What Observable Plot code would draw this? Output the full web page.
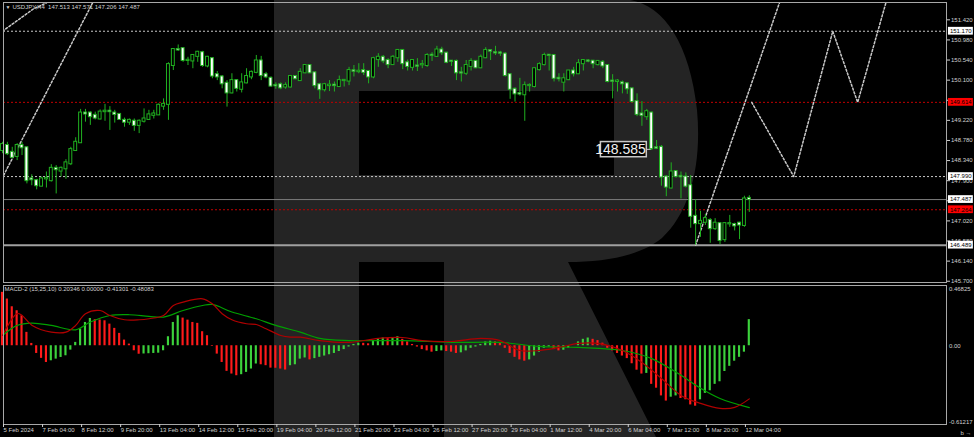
<!DOCTYPE html>
<html>
<head>
<meta charset="utf-8">
<script src="https://cdn.jsdelivr.net/npm/d3@7"></script>
<script src="https://cdn.jsdelivr.net/npm/@observablehq/plot@0.6"></script>
<style>
  html, body { margin: 0; padding: 0; background: #000; }
  #chart { position: relative; width: 974px; height: 437px; background: #000; overflow: hidden; }
  #chart > svg { position: absolute; left: 0; }
</style>
</head>
<body>
<div id="chart"></div>
<script>
// ---------- DATA ----------
const open = [148.56,148.67,148.52,148.43,148.67,148.62,147.94,147.90,147.78,147.94,
147.90,148.17,148.11,148.16,148.27,148.56,148.73,149.38,149.38,149.33,
149.25,149.41,149.42,149.38,149.35,149.22,149.18,149.20,149.11,149.20,
149.24,149.33,149.34,149.53,149.57,150.42,150.77,150.79,150.53,150.52,
150.62,150.70,150.41,150.57,150.22,150.17,150.03,149.82,150.09,149.90,
150.04,150.17,150.27,150.52,150.22,150.14,149.985,150.00,149.95,149.95,
150.18,150.09,150.26,150.42,150.26,150.00,149.89,149.98,149.99,149.96,
150.09,150.08,150.305,150.285,150.31,150.29,150.17,150.55,150.60,150.53,
150.44,150.59,150.75,150.48,150.38,150.41,150.435,150.42,150.645,150.62,
150.76,150.69,150.515,150.51,150.26,150.25,150.40,150.51,150.37,150.59,
150.745,150.70,150.695,150.67,150.22,149.90,149.805,149.78,149.98,149.96,
150.33,150.44,150.645,150.64,150.14,150.055,150.11,150.30,150.24,150.46,
150.52,150.515,150.44,150.49,150.42,150.08,150.07,150.04,150.02,149.91,
149.63,149.36,149.30,149.38,148.62,148.63,147.98,147.74,148.10,147.995,
147.98,147.79,147.12,146.96,146.99,147.03,146.85,146.96,146.61,146.955,
146.94,146.97,146.92,147.513];
const high = [148.74,148.74,148.63,148.71,148.74,148.63,148.03,147.93,147.98,148.09,
148.25,148.23,148.20,148.36,148.63,148.84,149.46,149.46,149.41,149.40,
149.45,149.57,149.52,149.44,149.36,149.27,149.25,149.25,149.23,149.47,
149.44,149.44,149.58,149.69,150.48,150.79,150.87,150.80,150.60,150.66,
150.73,150.73,150.62,150.59,150.29,150.20,150.09,150.24,150.11,150.24,
150.35,150.30,150.64,150.62,150.27,150.17,150.04,150.04,150.04,150.20,
150.20,150.35,150.44,150.44,150.27,150.03,150.03,150.09,150.06,150.19,
150.11,150.38,150.42,150.46,150.46,150.31,150.60,150.68,150.64,150.57,
150.64,150.77,150.77,150.54,150.55,150.57,150.53,150.68,150.70,150.84,
150.82,150.71,150.53,150.54,150.38,150.53,150.57,150.53,150.65,150.81,
150.75,150.84,150.73,150.70,150.24,149.93,150.14,150.06,150.02,150.36,
150.48,150.69,150.66,150.66,150.24,150.24,150.31,150.38,150.55,150.55,
150.55,150.53,150.53,150.53,150.44,150.22,150.11,150.08,150.04,149.92,
149.80,149.63,149.46,149.40,148.78,148.67,148.01,148.29,148.12,148.09,
148.07,148.01,147.48,147.23,147.16,147.07,147.07,146.97,146.97,147.14,
146.97,146.99,147.56,147.571];
const low = [148.49,148.45,148.38,148.34,148.45,147.83,147.79,147.70,147.77,147.74,
147.87,147.61,147.98,147.93,148.23,148.55,148.72,149.18,149.11,149.23,
149.23,149.20,149.00,149.16,149.22,149.07,149.11,148.98,148.93,149.16,
149.22,149.25,149.33,149.44,149.22,150.31,150.73,150.49,150.42,150.35,
150.49,150.38,150.37,150.13,150.09,149.91,149.51,149.80,149.84,149.82,
150.02,150.11,150.24,150.09,150.13,149.95,149.90,149.89,149.90,149.93,
150.11,150.07,150.24,150.24,149.91,149.68,149.84,149.85,149.84,149.95,
149.95,149.98,150.17,150.24,150.20,150.02,150.13,150.38,150.46,150.35,
150.42,150.49,150.33,150.30,150.30,150.29,150.35,150.38,150.51,150.60,
150.64,150.46,150.40,150.09,150.06,150.20,150.30,150.35,150.35,150.57,
150.53,150.64,150.62,150.17,149.68,149.62,149.75,149.20,149.84,149.93,
150.30,150.41,150.30,150.06,150.06,149.84,150.09,150.17,150.22,150.30,
150.48,150.35,150.41,150.35,150.04,149.69,149.84,149.80,149.79,149.60,
149.30,149.09,149.22,148.56,148.58,147.78,147.55,147.72,147.96,147.50,
147.74,146.86,146.489,146.66,146.92,146.53,146.81,146.50,146.55,146.88,
146.80,146.61,146.88,147.206];
const close = [148.69,148.49,148.41,148.67,148.62,147.90,147.92,147.79,147.94,147.95,
148.17,148.14,148.17,148.29,148.58,148.74,149.38,149.36,149.30,149.27,
149.40,149.42,149.41,149.35,149.24,149.18,149.22,149.11,149.20,149.25,
149.34,149.36,149.55,149.57,150.44,150.77,150.76,150.53,150.535,150.64,
150.71,150.42,150.60,150.19,150.17,150.02,149.82,150.09,149.92,150.04,
150.18,150.27,150.52,150.20,150.17,149.97,149.975,149.93,149.98,150.18,
150.13,150.27,150.42,150.26,149.98,149.89,150.00,149.99,149.98,150.09,
150.095,150.31,150.295,150.295,150.27,150.17,150.57,150.60,150.52,150.44,
150.60,150.75,150.46,150.40,150.53,150.405,150.44,150.64,150.64,150.76,
150.70,150.49,150.51,150.26,150.255,150.42,150.51,150.37,150.60,150.75,
150.735,150.695,150.69,150.20,149.90,149.80,149.795,149.98,149.985,150.35,
150.44,150.64,150.64,150.14,150.13,150.13,150.30,150.24,150.46,150.53,
150.515,150.46,150.51,150.41,150.07,150.075,150.08,150.02,149.91,149.63,
149.35,149.33,149.41,148.60,148.61,147.98,147.76,148.09,147.99,147.985,
147.78,147.12,146.96,147.01,147.07,146.85,146.97,146.59,146.96,146.96,
146.91,146.93,147.50,147.487];

// MACD-2 histogram (one value per bar)
const macdHist = [0.415,0.363,0.303,0.272,0.233,0.104,0.018,-0.060,-0.098,-0.130,
-0.117,-0.104,-0.091,-0.078,-0.034,0.026,0.130,0.181,0.212,0.202,
0.200,0.194,0.168,0.135,0.096,0.044,0.013,-0.039,-0.066,-0.064,
-0.062,-0.060,-0.058,-0.039,0.070,0.181,0.233,0.215,0.199,0.181,
0.174,0.109,0.078,-0.005,-0.065,-0.130,-0.199,-0.220,-0.233,-0.225,
-0.207,-0.181,-0.142,-0.148,-0.155,-0.174,-0.175,-0.181,-0.189,-0.155,
-0.148,-0.104,-0.095,-0.110,-0.100,-0.090,-0.080,-0.070,-0.060,-0.045,
-0.030,-0.010,0.010,0.020,0.019,0.015,0.040,0.055,0.060,0.055,
0.060,0.070,0.050,0.030,0.010,-0.010,-0.030,-0.040,-0.050,-0.045,
-0.040,-0.045,-0.050,-0.060,-0.055,-0.040,-0.020,-0.010,0.010,0.030,
0.035,0.030,0.020,-0.020,-0.060,-0.090,-0.110,-0.120,-0.110,-0.080,
-0.050,-0.020,-0.010,-0.030,-0.040,-0.035,-0.020,0.000,0.030,0.050,
0.060,0.050,0.040,0.020,-0.020,-0.040,-0.060,-0.080,-0.100,-0.140,
-0.190,-0.220,-0.215,-0.300,-0.330,-0.390,-0.430,-0.400,-0.390,-0.410,
-0.420,-0.460,-0.470,-0.420,-0.370,-0.350,-0.300,-0.280,-0.200,-0.160,
-0.120,-0.090,-0.050,0.203];

// MACD line (red) and signal line (green), read at bar positions
const macdLineBar = [0,3,4,6,10,13,15,17,20,22,25,28,30,33,35,37,41,43,45,47,50,52,54,57,59,61,65,71,77,82,86,92,98,102,106,110,114,118,122,127,131,135,139,143,147,150,153];
const macdLineVal = [0.08,0.25,0.235,0.16,0.106,0.106,0.158,0.249,0.274,0.235,0.202,0.202,0.21,0.235,0.313,0.339,0.365,0.326,0.249,0.202,0.171,0.165,0.132,0.08,0.067,0.067,0.04,0.026,0.057,0.064,0.04,0.033,0.057,0.04,-0.037,-0.037,-0.013,0.018,0.018,-0.037,-0.13,-0.254,-0.386,-0.448,-0.487,-0.479,-0.413];
const signalBar = [0,3,6,10,15,18,22,26,30,33,37,41,43,47,52,56,61,65,71,82,92,102,110,118,127,133,139,143,147,153];
const signalVal = [0.08,0.158,0.176,0.158,0.124,0.184,0.235,0.241,0.228,0.223,0.274,0.313,0.321,0.262,0.21,0.158,0.106,0.057,0.04,0.04,0.026,0.026,-0.005,-0.013,-0.037,-0.1,-0.23,-0.33,-0.41,-0.481];

// price axis ticks (labels hidden under the level boxes are left blank)
const priceTicks = [151.42,150.98,150.54,150.10,149.66,149.22,148.78,148.34,147.90,147.46,147.02,146.58,146.14,145.70];
const priceTicksCovered = [149.66, 147.46];
// time axis
const timeTickBar = [0,8,16,24,32,40,48,56,64,72,80,88,96,104,112,120,128,136,144,152];
const timeTickLabel = ["5 Feb 2024","7 Feb 04:00","8 Feb 12:00","9 Feb 20:00","13 Feb 04:00","14 Feb 12:00","15 Feb 20:00","19 Feb 04:00","20 Feb 12:00","21 Feb 20:00","23 Feb 04:00","26 Feb 12:00","27 Feb 20:00","29 Feb 04:00","1 Mar 12:00","4 Mar 20:00","6 Mar 04:00","7 Mar 12:00","8 Mar 20:00","12 Mar 04:00"];
// horizontal levels
const levelPrice = [151.170,149.614,147.990,147.487,147.264,146.489];
const levelKind  = ["dotW","dotR","dotW","solid","dotR","solid2"];
const levelBoxBg = ["#ffffff","#ff0000","#ffffff","#ffffff","#ff0000","#ffffff"];
// analyst drawn dotted trend lines
const fcLine  = ["C","C","C","D","D","A","A","B","B","B","B","B"];
const fcBar   = [0,6.35,9.0,18.45,0,142,159.2,153.5,162.1,170.1,175.2,181];
const fcPrice = [151.17,151.66,151.79,151.79,147.97,146.489,151.80,149.614,147.99,151.17,149.614,151.80];
// price note
const noteBar = 132, notePrice = 148.585, noteText = "148.585";
const titleText = "USDJPY,H4  147.513 147.571 147.206 147.487";
const macdTitle = "MACD-2 (15,25,10) 0.20346 0.00000 -0.41301 -0.48083";
const macdTicks = [0.46825, 0, -0.61217];
const macdTickLabel = ["0.46825", "0.00", "-0.61217"];

// ---------- STYLE ----------
const GREEN = "#20b020";
const FRAME = "#a8a8a8";
const TXT = "#d0d0d0";
const FONT = "'Liberation Sans', Arial, sans-serif";
const xDomain = [0.205, 193.4];
const root = document.getElementById("chart");

// watermark (background)
const NS = "http://www.w3.org/2000/svg";
const bg = document.createElementNS(NS, "svg");
bg.setAttribute("width", 974); bg.setAttribute("height", 437);
bg.style.top = "0px";
const wm = document.createElementNS(NS, "path");
wm.setAttribute("d", "M274,0 H630 C665,6 690,45 697,110 C702,165 690,212 662,238 C640,256 605,262 568,262 L656,437 H444 V262 H359 V437 H274 Z M359,91 H614 V175 H359 Z");
wm.setAttribute("fill", "#242424");
wm.setAttribute("fill-rule", "evenodd");
bg.appendChild(wm);
root.appendChild(bg);

// ---------- MAIN PANEL ----------
const candles = open.map((o, i) => ({i, o, h: high[i], l: low[i], c: close[i]}));
const bull = candles.filter(d => d.c >= d.o);
const bear = candles.filter(d => d.c < d.o);
const bw = 0.3;
const body = (data, fill) => Plot.rect(data, {
  x1: d => d.i - bw, x2: d => d.i + bw,
  y1: d => Math.min(d.o, d.c), y2: d => Math.max(d.o, d.c),
  insetTop: -0.5, insetBottom: -0.5,
  fill, stroke: GREEN, strokeWidth: 1
});
const levels = levelPrice.map((p, k) => ({p, kind: levelKind[k], bg: levelBoxBg[k]}));
const fc = fcBar.map((b, k) => ({b, p: fcPrice[k], line: fcLine[k]}));
const boxH = 0.085;

const main = Plot.plot({
  width: 974, height: 284,
  marginTop: 2, marginBottom: 2, marginLeft: 3, marginRight: 28,
  style: {background: "transparent", color: TXT, fontFamily: FONT, fontSize: "6px"},
  x: {domain: xDomain, axis: null},
  y: {domain: [145.672, 151.799], axis: null},
  marks: [
    Plot.axisY({anchor: "right", ticks: priceTicks, tickFormat: d => priceTicksCovered.includes(d) ? "" : d.toFixed(3), tickSize: 3, tickPadding: 1.5, fontSize: 6}),
    Plot.ruleY(levels.filter(d => d.kind === "dotW"), {y: "p", stroke: "#c8c8c8", strokeDasharray: "2,2"}),
    Plot.ruleY(levels.filter(d => d.kind === "dotR"), {y: "p", stroke: "#c00000", strokeDasharray: "2,2"}),
    Plot.ruleY(levels.filter(d => d.kind === "solid"), {y: "p", stroke: "#7a7a7a"}),
    Plot.ruleY(levels.filter(d => d.kind === "solid2"), {y: "p", stroke: "#a0a0a0", strokeWidth: 2}),
    Plot.line(fc, {x: "b", y: "p", z: "line", stroke: "#c8c8c8", strokeDasharray: "2,2", clip: true}),
    Plot.ruleX(candles, {x: "i", y1: "l", y2: "h", stroke: GREEN}),
    body(bull, "#000000"),
    body(bear, "#ffffff"),
    // price note box
    Plot.rect([{}], {x1: noteBar - 9.4, x2: noteBar, y1: notePrice - 0.172, y2: notePrice + 0.160, fill: "#000", stroke: "#c8c8c8", strokeWidth: 1.5}),
    Plot.text([{}], {x: noteBar - 0.2, y: notePrice, text: () => noteText, textAnchor: "end", fill: "#f0f0f0", fontSize: 14, fontFamily: "'Liberation Sans Narrow', 'Liberation Sans', Arial, sans-serif"}),
    Plot.ruleY([notePrice], {x1: noteBar, x2: noteBar + 0.9, stroke: "#c8c8c8"}),
    // right price boxes
    Plot.rect(levels, {x1: 193.8, x2: 198.9, y1: d => d.p - boxH, y2: d => d.p + boxH, fill: "bg"}),
    Plot.text(levels, {x: 194.1, y: "p", text: d => d.p.toFixed(3), textAnchor: "start", fill: "#000", fontSize: 6}),
    Plot.frame({stroke: FRAME}),
    Plot.text([titleText], {frameAnchor: "top-left", dx: 9, dy: 5, textAnchor: "start", lineAnchor: "middle", fill: TXT, fontSize: 6}),
    Plot.text(["\u25BC"], {frameAnchor: "top-left", dx: 2, dy: 5, textAnchor: "start", lineAnchor: "middle", fill: TXT, fontSize: 5})
  ]
});
main.style.top = "0px";
root.appendChild(main);

// ---------- MACD PANEL ----------
const hist = macdHist.map((v, i) => ({i, v, up: i > 0 ? v > macdHist[i - 1] : false}));
const mLine = macdLineBar.map((b, k) => ({b, v: macdLineVal[k]}));
const sLine = signalBar.map((b, k) => ({b, v: signalVal[k]}));
const hw = 0.22;
const macd = Plot.plot({
  width: 974, height: 153,
  marginTop: 1, marginBottom: 13, marginLeft: 3, marginRight: 28,
  style: {background: "transparent", color: TXT, fontFamily: FONT, fontSize: "6px"},
  x: {domain: xDomain, axis: null},
  y: {domain: [-0.61217, 0.46825], axis: null},
  marks: [
    Plot.rect(hist.filter(d => d.up), {x1: d => d.i - hw, x2: d => d.i + hw, y1: 0, y2: "v", fill: "#3cd23c"}),
    Plot.rect(hist.filter(d => !d.up), {x1: d => d.i - hw, x2: d => d.i + hw, y1: 0, y2: "v", fill: "#ff1a1a"}),
    Plot.line(sLine, {x: "b", y: "v", stroke: "#00a000", strokeWidth: 1.2, curve: "catmull-rom"}),
    Plot.line(mLine, {x: "b", y: "v", stroke: "#b00000", strokeWidth: 1.2, curve: "catmull-rom"}),
    Plot.frame({stroke: FRAME}),
    Plot.axisX({anchor: "bottom", ticks: timeTickBar, tickFormat: d => timeTickLabel[timeTickBar.indexOf(d)], tickSize: 3, tickPadding: 0, textAnchor: "start", dx: 1, fontSize: 6}),
    Plot.text([macdTicks[0]], {x: 193.9, y: d => d, text: () => macdTickLabel[0], textAnchor: "start", lineAnchor: "top", dy: 1, fill: TXT, fontSize: 6}),
    Plot.text([macdTicks[1]], {x: 193.9, y: d => d, text: () => macdTickLabel[1], textAnchor: "start", lineAnchor: "middle", fill: TXT, fontSize: 6}),
    Plot.text([macdTicks[2]], {x: 193.9, y: d => d, text: () => macdTickLabel[2], textAnchor: "start", lineAnchor: "bottom", dy: -1, fill: TXT, fontSize: 6}),
    Plot.text([macdTitle], {frameAnchor: "top-left", dx: 1, dy: 4, textAnchor: "start", lineAnchor: "middle", fill: TXT, fontSize: 6})
  ]
});
macd.style.top = "284px";
root.appendChild(macd);
</script>
</body>
</html>
